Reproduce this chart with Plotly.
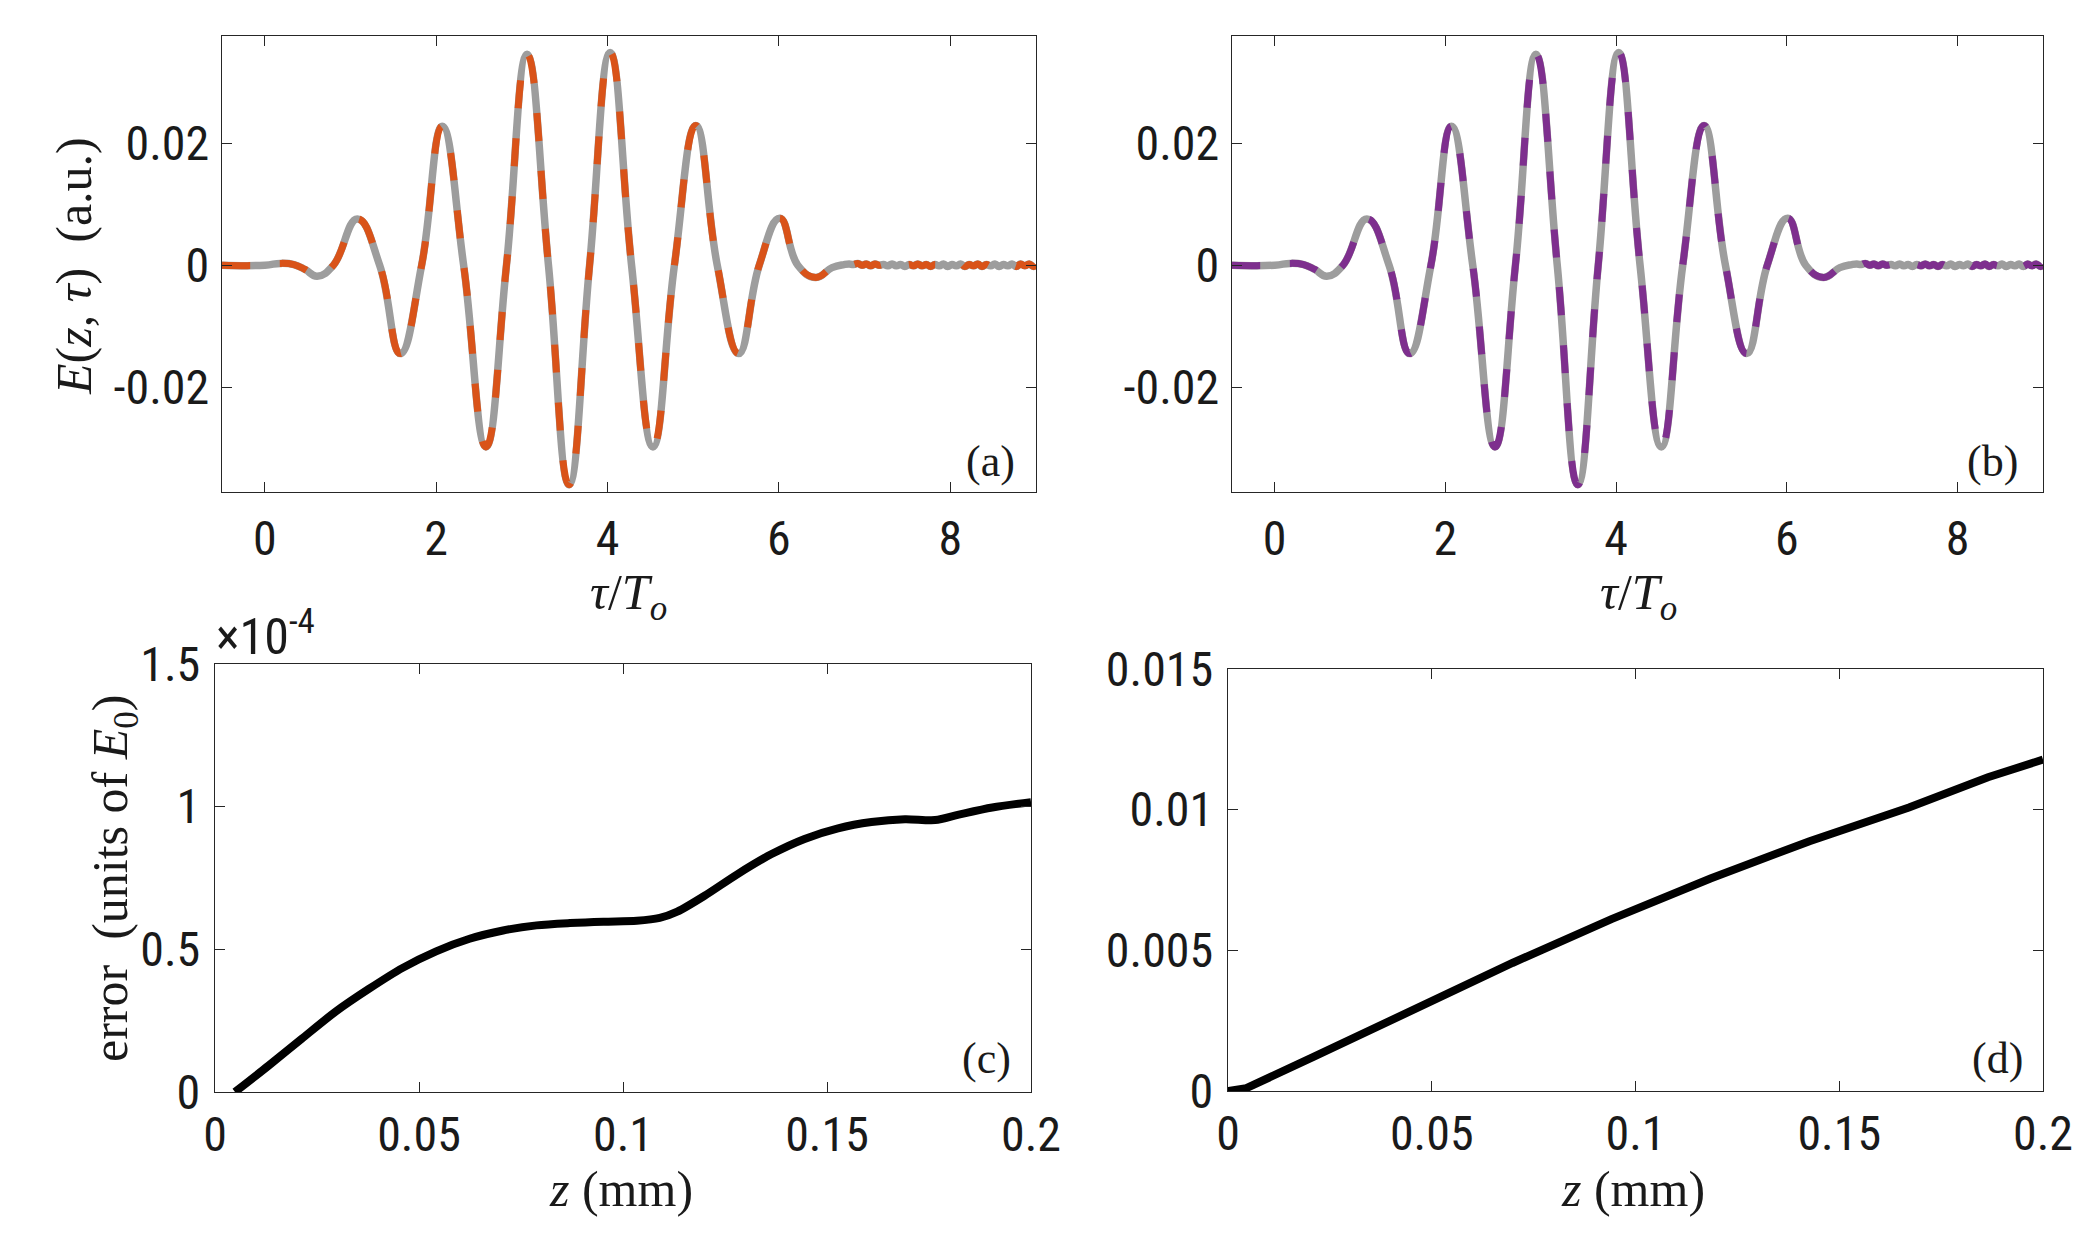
import plotly.graph_objects as go

# ---------------- data ----------------
# panels (a),(b): field E(z,tau) versus tau/T_o
tau = [-0.5, 0.0, 0.18, 0.34, 0.47, 0.61, 0.80, 1.08, 1.34, 1.58, 1.83, 2.07, 2.32,
       2.58, 2.82, 3.06, 3.31, 3.55, 3.79, 4.03, 4.28, 4.53, 4.78, 5.03, 5.28, 5.53,
       5.77, 6.01, 6.22, 6.43, 6.62, 6.76,
       6.82, 6.87, 6.92, 6.97, 7.02, 7.07, 7.12, 7.17, 7.22, 7.27, 7.32, 7.37, 7.42,
       7.47, 7.52, 7.57, 7.62, 7.67, 7.72, 7.77, 7.82, 7.87, 7.92, 7.97, 8.02, 8.07,
       8.12, 8.17, 8.22, 8.27, 8.32, 8.37, 8.42, 8.47, 8.52, 8.57, 8.62, 8.67, 8.72,
       8.77, 8.82, 8.87, 8.92, 8.97, 9.0]
E_ref = [0.0, 0.0, 0.0003, 0.0001, -0.0007, -0.0018, 0.0, 0.0076, 0.0, -0.0145, 0.0,
         0.0228, 0.0, -0.0298, 0.0, 0.0346, 0.0, -0.0360, 0.0, 0.0349, 0.0, -0.0298,
         0.0, 0.0229, 0.0, -0.0145, 0.0, 0.0077, 0.0, -0.0020, -0.0004, 0.0001,
         0.0002, 0.0001, 0.0003, 0.0, 0.0002, -0.0001, 0.0002, 0.0, 0.0001, -0.0001,
         0.0002, -0.0001, 0.0001, -0.0002, 0.0001, -0.0001, 0.0002, -0.0001, 0.0001,
         -0.0002, 0.0001, -0.0001, 0.0002, -0.0002, 0.0001, -0.0001, 0.0002, -0.0002,
         0.0001, -0.0001, 0.0002, -0.0002, 0.0001, -0.0001, 0.0002, -0.0002, 0.0001,
         -0.0001, 0.0002, -0.0002, 0.0002, -0.0001, 0.0002, -0.0002, 0.0001]
E_a = list(E_ref)   # orange dashed (a), overlaps the reference
E_b = list(E_ref)   # purple dashed (b), overlaps the reference

# panel (c): error versus z (mm)
z_c = [0.0049, 0.0131, 0.0213, 0.0296, 0.0378, 0.046, 0.0542, 0.0624, 0.0706, 0.0788,
       0.087, 0.0952, 0.1034, 0.109, 0.1133, 0.1199, 0.128, 0.1363, 0.1445, 0.1527,
       0.1609, 0.1691, 0.1765, 0.1823, 0.1905, 0.2]
err_c = [0.0, 0.092e-4, 0.187e-4, 0.282e-4, 0.362e-4, 0.435e-4, 0.493e-4, 0.537e-4,
         0.566e-4, 0.584e-4, 0.592e-4, 0.597e-4, 0.600e-4, 0.610e-4, 0.632e-4,
         0.687e-4, 0.763e-4, 0.833e-4, 0.887e-4, 0.924e-4, 0.946e-4, 0.956e-4,
         0.953e-4, 0.972e-4, 0.997e-4, 1.016e-4]

# panel (d): error versus z (mm)
z_d = [0.0, 0.0045, 0.0211, 0.0454, 0.0698, 0.0941, 0.1184, 0.1427, 0.1671, 0.1865, 0.2]
err_d = [0.0, 0.0001, 0.00122, 0.00288, 0.00455, 0.00611, 0.00755, 0.00888, 0.01008,
         0.01115, 0.01178]

tau_ticks = [0, 2, 4, 6, 8]
E_ticks = [-0.02, 0, 0.02]
E_ticktext = ["-0.02", "0", "0.02"]
z_ticks = [0, 0.05, 0.1, 0.15, 0.2]
z_ticktext = ["0", "0.05", "0.1", "0.15", "0.2"]
c_ticks = [0, 0.5e-4, 1e-4, 1.5e-4]
c_ticktext = ["0", "0.5", "1", "1.5"]
d_ticks = [0, 0.005, 0.01, 0.015]
d_ticktext = ["0", "0.005", "0.01", "0.015"]

GRAY = "#9d9d9d"
ORANGE = "#D95319"
PURPLE = "#7E2F8E"
AX = "#262626"
SANS = "Liberation Sans Narrow, Arial Narrow, Roboto Condensed, Liberation Sans, sans-serif"
SERIF = "Liberation Serif, Times New Roman, serif"
W, H = 2086, 1253
NB = "\u00a0"

fig = go.Figure()

# (a)
fig.add_trace(go.Scatter(x=tau, y=E_ref, mode="lines", xaxis="x", yaxis="y",
                         line=dict(color=GRAY, width=7.5, shape="spline", smoothing=1.3)))
fig.add_trace(go.Scatter(x=tau, y=E_a, mode="lines", xaxis="x", yaxis="y",
                         line=dict(color=ORANGE, width=7, shape="spline", smoothing=1.3,
                                   dash="28px,30px")))
# (b)
fig.add_trace(go.Scatter(x=tau, y=E_ref, mode="lines", xaxis="x2", yaxis="y2",
                         line=dict(color=GRAY, width=7.5, shape="spline", smoothing=1.3)))
fig.add_trace(go.Scatter(x=tau, y=E_b, mode="lines", xaxis="x2", yaxis="y2",
                         line=dict(color=PURPLE, width=7, shape="spline", smoothing=1.3,
                                   dash="28px,30px")))
# (c)
fig.add_trace(go.Scatter(x=z_c, y=err_c, mode="lines", xaxis="x3", yaxis="y3",
                         line=dict(color="black", width=8, shape="spline", smoothing=0.8)))
# (d)
fig.add_trace(go.Scatter(x=z_d, y=err_d, mode="lines", xaxis="x4", yaxis="y4",
                         line=dict(color="black", width=8)))


def ax(domain, rng, tickvals, ticktext, anchor, standoff):
    return dict(domain=domain, range=rng, tickvals=tickvals, ticktext=ticktext,
                anchor=anchor, showgrid=False, zeroline=False, showline=True,
                linecolor=AX, linewidth=1.3, mirror="allticks", ticks="inside",
                ticklen=10, tickwidth=1.3, tickcolor=AX, automargin=False,
                tickfont=dict(family=SANS, size=48, color="#1a1a1a"),
                ticklabelstandoff=standoff)


xa = [222 / W, 1036 / W]
xb = [1232 / W, 2043 / W]
xc = [215 / W, 1031 / W]
xd = [1228 / W, 2043 / W]
ytop = [1 - 492 / H, 1 - 36 / H]
yc = [1 - 1092 / H, 1 - 664 / H]
yd = [1 - 1091 / H, 1 - 669 / H]

Erange = [-0.0372, 0.0376]

fig.update_layout(
    width=W, height=H, margin=dict(l=0, r=0, t=0, b=0, autoexpand=False),
    paper_bgcolor="white", plot_bgcolor="white", showlegend=False,
    xaxis=ax(xa, [-0.5, 9], tau_ticks, [str(v) for v in tau_ticks], "y", 4),
    yaxis=ax(ytop, Erange, E_ticks, E_ticktext, "x", 2),
    xaxis2=ax(xb, [-0.5, 9], tau_ticks, [str(v) for v in tau_ticks], "y2", 4),
    yaxis2=ax(ytop, Erange, E_ticks, E_ticktext, "x2", 2),
    xaxis3=ax(xc, [0, 0.2], z_ticks, z_ticktext, "y3", 0),
    yaxis3=ax(yc, [0, 1.5e-4], c_ticks, c_ticktext, "x3", 4),
    xaxis4=ax(xd, [0, 0.2], z_ticks, z_ticktext, "y4", 0),
    yaxis4=ax(yd, [0, 0.015], d_ticks, d_ticktext, "x4", 4),
)

serif_font = dict(family=SERIF, size=50, color="#1a1a1a")
tau_title = "<i>τ</i>/<i>T</i><sub><i>o</i></sub>"
z_title = "<i>z</i>" + NB + "(mm)"
anns = [
    dict(x=74 / W, y=1 - 266 / H,
         text="<i>E</i>(<i>z</i>," + NB + "<i>τ</i>)" + NB * 2 + "(a.u.)", textangle=-90),
    dict(x=628 / W, y=1 - 596 / H, text=tau_title),
    dict(x=1638 / W, y=1 - 596 / H, text=tau_title),
    dict(x=114 / W, y=1 - 879 / H,
         text="error" + NB * 2 + "(units" + NB + "of" + NB + "<i>E</i><sub>0</sub>)", textangle=-90),
    dict(x=621 / W, y=1 - 1189 / H, text=z_title),
    dict(x=1633 / W, y=1 - 1189 / H, text=z_title),
]
for a in anns:
    fig.add_annotation(xref="paper", yref="paper", showarrow=False,
                       xanchor="center", yanchor="middle", font=serif_font, **a)

panel_font = dict(family=SERIF, size=44, color="#1a1a1a")
for txt, x, y in [("(a)", 990, 462), ("(b)", 1992, 462), ("(c)", 986, 1058), ("(d)", 1997, 1058)]:
    fig.add_annotation(xref="paper", yref="paper", x=x / W, y=1 - y / H, text=txt,
                       showarrow=False, xanchor="center", yanchor="middle", font=panel_font)

fig.add_annotation(xref="paper", yref="paper", x=214 / W, y=1 - 668 / H,
                   text="×10<sup>-4</sup>", showarrow=False, xanchor="left",
                   yanchor="bottom", font=dict(family=SANS, size=50, color="#1a1a1a"))

fig.write_html("out.html")
